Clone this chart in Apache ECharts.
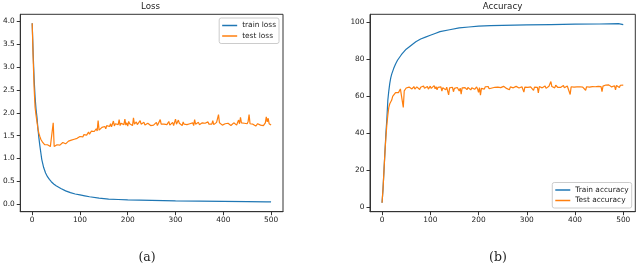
<!DOCTYPE html>
<html>
<head>
<meta charset="utf-8">
<script src="https://cdn.jsdelivr.net/npm/echarts@6/dist/echarts.min.js"></script>
<style>html,body{margin:0;padding:0;background:#fff}#c{width:640px;height:267px}</style>
</head>
<body>
<div id="c"></div>
<script>
// ---- data ----
const xTicks = [0, 100, 200, 300, 400, 500];
const lossTicks = [0, 0.5, 1.0, 1.5, 2.0, 2.5, 3.0, 3.5, 4.0];
const accTicks = [0, 20, 40, 60, 80, 100];

const trainEpochs = [0,2,4,6,8,10,12,14,16,18,20,24,28,32,36,40,45,50,60,70,80,90,100,110,120,140,160,180,200,225,250,275,300,350,400,450,490,500];
const trainLoss = [3.96,3.3,2.75,2.35,2.08,1.9,1.65,1.45,1.28,1.13,0.98,0.80,0.68,0.60,0.54,0.49,0.44,0.40,0.34,0.29,0.25,0.22,0.20,0.18,0.16,0.13,0.11,0.10,0.09,0.085,0.08,0.075,0.07,0.065,0.06,0.055,0.05,0.05];
const trainAcc = [2.5,10,20,30,40,48,58,63,67,70,72,75,77.5,79.5,81,82.5,84,85.5,87.5,89.5,91,92,93,94,95,96,97,97.5,98,98.2,98.4,98.5,98.6,98.8,99,99.1,99.3,98.8];

// test series: one value every 2 epochs, 0..500
const testLoss = [
3.96,3.2,2.55,2.12,1.95,1.8,1.65,1.55,1.48,1.42,1.38,1.35,1.33,1.30,1.32,1.28,1.30,1.27,1.29,1.26,1.28,1.25,1.78,1.26,1.24,
1.27,1.30,1.26,1.31,1.29,1.33,1.30,1.35,1.31,1.34,1.32,1.36,1.33,1.38,1.35,1.37,1.40,1.36,1.39,1.42,1.38,1.41,1.44,1.40,1.45,1.48,
1.46,1.50,1.47,1.52,1.49,1.55,1.51,1.54,1.58,1.53,1.57,1.60,1.56,1.62,1.59,1.61,1.65,1.60,1.83,1.62,1.66,1.63,1.68,1.64,1.67,1.70,1.65,1.72,1.68,1.74,1.70,1.76,1.69,1.73,1.82,
1.71,1.76,1.73,1.79,1.74,1.85,1.72,1.77,1.75,1.80,
1.74,1.86,1.73,1.78,1.71,1.81,1.76,1.74,1.79,1.72,
1.89,1.75,1.73,1.80,1.74,1.77,1.71,1.83,1.75,1.72,
1.76,1.79,1.73,1.75,1.70,1.77,1.74,1.78,1.72,1.76,
1.75,1.73,1.77,1.74,1.79,1.72,1.76,1.74,1.85,1.75,
1.73,1.77,1.75,1.72,1.78,1.74,1.76,1.81,1.73,1.77,
1.74,1.79,1.72,1.76,1.86,1.75,1.73,1.84,1.77,1.74,
1.78,1.72,1.80,1.75,1.73,1.79,1.74,1.77,1.71,1.76,
1.80,1.74,1.78,1.72,1.85,1.75,1.77,1.73,1.79,1.74,
1.76,1.72,1.78,1.81,1.74,1.77,1.73,1.76,1.80,1.75,
1.73,1.78,1.75,1.83,1.74,1.77,1.72,1.79,1.76,1.96,
1.78,1.74,1.77,1.73,1.75,1.72,1.76,1.74,1.73,1.77,
1.74,1.75,1.72,1.76,1.73,1.78,1.74,1.76,1.73,1.79,
1.84,1.76,1.90,1.78,1.75,1.82,1.77,1.74,1.79,1.76,
1.81,1.96,1.76,1.74,1.72,1.75,1.73,1.77,1.71,1.74,
1.76,1.72,1.75,1.73,1.74,1.76,1.72,1.75,1.78,1.91,
1.80,1.88,1.76,1.74,1.73];

const testAcc = [
2.5,10,20,30,38,45,50,54,56,57,58,60,59,61,62,61,63,62,63,64,63,64,54,63,64,
64.5,65.2,63.8,65.0,64.2,65.5,64.0,64.8,65.3,63.9,
64.6,65.1,64.3,65.4,63.7,64.9,65.2,64.1,65.6,64.4,
65.0,64.2,65.3,63.9,64.8,65.5,64.3,65.0,64.6,65.8,
64.1,65.2,63.6,64.9,65.4,64.0,65.1,62.8,64.7,65.3,
64.2,63.5,65.0,64.4,60.8,64.6,65.2,63.8,64.9,62.5,
64.3,65.1,63.7,64.8,65.0,62.9,64.4,61.2,64.6,65.0,
63.9,64.7,65.2,63.6,64.8,64.1,65.0,63.5,64.6,64.2,
64.9,63.8,64.5,65.1,64.0,62.2,64.7,60.7,64.3,65.0,
64.6,63.9,65.2,64.4,64.8,65.3,64.1,64.9,65.0,64.5,
65.2,64.3,64.9,65.4,64.6,65.0,64.2,65.3,64.7,65.1,
64.8,65.4,64.5,65.0,64.3,65.2,64.9,63.6,65.1,64.7,
65.3,64.6,65.0,64.2,65.4,64.8,65.5,64.5,65.1,64.9,
65.2,64.7,62.3,65.0,64.6,65.3,64.9,65.5,64.4,65.1,
64.8,65.4,63.2,65.0,64.5,65.2,64.8,61.9,65.3,64.9,
65.1,64.6,65.4,64.9,65.6,64.3,65.2,64.8,65.5,64.7,
68.0,65.3,64.8,65.5,64.6,66.0,65.1,64.9,65.7,65.2,
64.8,65.4,65.0,65.8,64.7,65.3,65.1,65.6,64.9,65.4,
61.0,65.2,64.8,65.5,65.0,64.6,65.3,65.1,64.9,65.6,
65.2,64.8,65.5,65.0,64.7,65.4,63.3,65.2,64.9,65.6,
65.0,65.5,64.8,65.3,65.7,64.9,65.2,65.6,65.0,65.4,
65.1,65.8,65.3,62.6,65.5,65.9,65.2,66.1,65.4,65.7,
66.2,65.5,65.8,65.1,66.0,65.4,65.7,63.5,65.9,65.3,
65.6,64.8,66.0,65.3,65.8,66.1];

const testStep = 2;
// ---- build ----
const pairs = (xs, ys) => ys.map((y, i) => [xs[i], y]);
const testEpochs = testLoss.map((_, i) => i * testStep);
const testAccEpochs = testAcc.map((_, i) => i * testStep);

const BLUE = '#1f77b4', ORANGE = '#ff7f0e', INK = '#333';
const FONT = 'DejaVu Sans';
const TICKFS = 7.4;

function xAxis(gi) {
  return {
    type: 'value', gridIndex: gi, min: -25, max: 525,
    splitLine: { show: false },
    axisLine: { show: true, onZero: false, lineStyle: { color: INK, width: 1 } },
    axisTick: { show: true, length: 3.5, lineStyle: { color: INK }, customValues: xTicks },
    axisLabel: { customValues: xTicks, color: '#222', fontSize: TICKFS, fontFamily: FONT, margin: 5 }
  };
}
function yAxis(gi, min, max, ticks, dec) {
  return {
    type: 'value', gridIndex: gi, min: min, max: max,
    splitLine: { show: false },
    axisLine: { show: true, onZero: false, lineStyle: { color: INK, width: 1 } },
    axisTick: { show: true, length: 3.5, lineStyle: { color: INK }, customValues: ticks },
    axisLabel: { customValues: ticks, color: '#222', fontSize: TICKFS, fontFamily: FONT, margin: 5.5,
      formatter: v => v.toFixed(dec) }
  };
}
const line = (name, color, xi, data) => ({
  name, type: 'line', xAxisIndex: xi, yAxisIndex: xi, data,
  showSymbol: false, symbol: 'none', lineStyle: { color, width: 1.2 }, itemStyle: { color },
  emphasis: { disabled: true }
});
const legendCommon = {
  orient: 'vertical', icon: 'rect', itemWidth: 15, itemHeight: 1.5, itemGap: 3.5,
  padding: [4, 3, 4, 3], backgroundColor: '#fff', borderColor: '#ccc', borderWidth: 1, borderRadius: 2,
  textStyle: { fontSize: TICKFS, color: '#222', fontFamily: FONT }
};

const chart = echarts.init(document.getElementById('c'), null, { renderer: 'canvas' });
chart.setOption({
  animation: false,
  backgroundColor: '#fff',
  title: [
    { text: 'Loss', left: 150.5, top: 2, textAlign: 'center', padding: 0,
      textStyle: { fontSize: 8.7, fontWeight: 'normal', color: '#222', fontFamily: FONT } },
    { text: 'Accuracy', left: 502.5, top: 2, textAlign: 'center', padding: 0,
      textStyle: { fontSize: 8.7, fontWeight: 'normal', color: '#222', fontFamily: FONT } },
    { text: '(a)', left: 147, top: 251, textAlign: 'center', padding: 0,
      textStyle: { fontSize: 12.5, fontWeight: 'normal', color: '#222', fontFamily: 'DejaVu Serif' } },
    { text: '(b)', left: 498, top: 251, textAlign: 'center', padding: 0,
      textStyle: { fontSize: 12.5, fontWeight: 'normal', color: '#222', fontFamily: 'DejaVu Serif' } }
  ],
  grid: [
    { left: 17.7, right: 357, top: 14.3, bottom: 55.3, show: true, borderColor: INK, borderWidth: 1, backgroundColor: '#fff' },
    { left: 370, right: 4.7, top: 14.3, bottom: 55.3, show: true, borderColor: INK, borderWidth: 1, backgroundColor: '#fff' }
  ],
  xAxis: [xAxis(0), xAxis(1)],
  yAxis: [yAxis(0, -0.167, 4.157, lossTicks, 1), yAxis(1, -2.35, 104.35, accTicks, 0)],
  legend: [
    Object.assign({ data: ['train loss', 'test loss'], right: 361, top: 18 }, legendCommon),
    Object.assign({ data: ['Train accuracy', 'Test accuracy'], right: 8.3, bottom: 59 }, legendCommon)
  ],
  series: [
    line('train loss', BLUE, 0, pairs(trainEpochs, trainLoss)),
    line('test loss', ORANGE, 0, pairs(testEpochs, testLoss)),
    line('Train accuracy', BLUE, 1, pairs(trainEpochs, trainAcc)),
    line('Test accuracy', ORANGE, 1, pairs(testAccEpochs, testAcc))
  ]
});
</script>
</body>
</html>
